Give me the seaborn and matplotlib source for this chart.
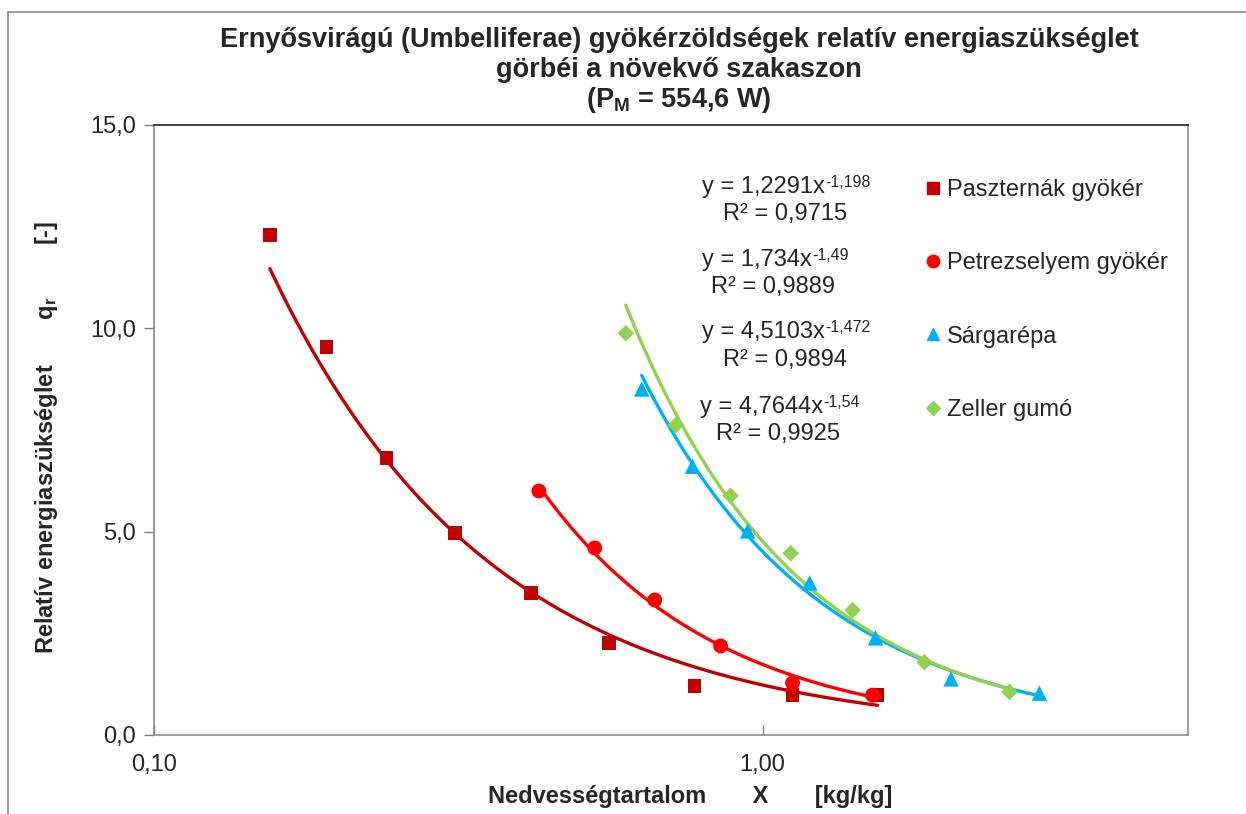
import numpy as np
import pandas as pd
import matplotlib
matplotlib.use("Agg")
import matplotlib.pyplot as plt
import seaborn as sns
from matplotlib.lines import Line2D
from matplotlib.ticker import FixedLocator, FixedFormatter, NullLocator

sns.set_theme(style="white")
plt.rcParams['font.family'] = ['Liberation Sans', 'DejaVu Sans']
plt.rcParams['mathtext.default'] = 'regular'

# ---- data ----
series_names = ["Paszternák gyökér", "Petrezselyem gyökér", "Sárgarépa", "Zeller gumó"]

x_paszternak = [0.155, 0.192, 0.241, 0.312, 0.416, 0.559, 0.773, 1.12, 1.545]
y_paszternak = [12.29, 9.54, 6.81, 4.97, 3.49, 2.26, 1.20, 0.98, 0.98]

x_petrezselyem = [0.429, 0.530, 0.665, 0.853, 1.12, 1.516]
y_petrezselyem = [6.00, 4.60, 3.32, 2.19, 1.28, 0.98]

x_sargarepa = [0.633, 0.767, 0.945, 1.195, 1.533, 2.04, 2.85]
y_sargarepa = [8.51, 6.61, 5.02, 3.74, 2.39, 1.38, 1.03]

x_zeller = [0.596, 0.720, 0.886, 1.112, 1.406, 1.845, 2.544]
y_zeller = [9.88, 7.62, 5.88, 4.47, 3.07, 1.79, 1.06]

# power-law trendline coefficients shown on the chart
coef_a = [1.2291, 1.734, 4.5103, 4.7644]
coef_b = [-1.198, -1.49, -1.472, -1.54]
eq_main = ["y = 1,2291x", "y = 1,734x", "y = 4,5103x", "y = 4,7644x"]
eq_sup = ["-1,198", "-1,49", "-1,472", "-1,54"]
r2_labels = ["R² = 0,9715", "R² = 0,9889", "R² = 0,9894", "R² = 0,9925"]

x_ticks = [0.1, 1.0]
x_ticklabels = ["0,10", "1,00"]
y_ticks = [0, 5, 10, 15]
y_ticklabels = ["0,0", "5,0", "10,0", "15,0"]

colors = {"Paszternák gyökér": "#C00000", "Petrezselyem gyökér": "#FF0000",
          "Sárgarépa": "#00B0F0", "Zeller gumó": "#92D050"}
markers = {"Paszternák gyökér": "s", "Petrezselyem gyökér": "o",
           "Sárgarépa": "^", "Zeller gumó": "D"}
msizes = {"Paszternák gyökér": 95, "Petrezselyem gyökér": 115,
          "Sárgarépa": 125, "Zeller gumó": 72}

xs = [x_paszternak, x_petrezselyem, x_sargarepa, x_zeller]
ys = [y_paszternak, y_petrezselyem, y_sargarepa, y_zeller]

pts = pd.concat([pd.DataFrame({"x": x, "y": y, "s": n}) for n, x, y in zip(series_names, xs, ys)],
                ignore_index=True)

trend_frames = []
for n, x, a, b in zip(series_names, xs, coef_a, coef_b):
    xx = np.geomspace(min(x), max(x), 200)
    trend_frames.append(pd.DataFrame({"x": xx, "y": a * xx ** b, "s": n}))
trend = pd.concat(trend_frames, ignore_index=True)

fig = plt.figure(figsize=(12.46, 8.14), dpi=100)
ax = fig.add_axes([154 / 1246, 1 - 735 / 814, (1188 - 154) / 1246, (735 - 125) / 814])

sns.lineplot(data=trend, x="x", y="y", hue="s", palette=colors, lw=2.4,
             legend=False, ax=ax, sort=False, estimator=None)
for n in series_names:
    d = pts[pts.s == n]
    sns.scatterplot(data=d, x="x", y="y", color=colors[n], marker=markers[n],
                    s=msizes[n], edgecolor="none", linewidth=0, ax=ax, legend=False, zorder=3)

ax.set_xscale("log")
ax.set_xlim(0.1, 5.0)
ax.set_ylim(0, 15)
ax.xaxis.set_major_locator(FixedLocator(x_ticks))
ax.xaxis.set_major_formatter(FixedFormatter(x_ticklabels))
ax.xaxis.set_minor_locator(NullLocator())
ax.set_yticks(y_ticks)
ax.set_yticklabels(y_ticklabels)
ax.tick_params(axis="y", direction="out", length=7, width=1, color="#808080",
               labelsize=17, pad=6, left=True)
ax.tick_params(axis="x", direction="in", length=7, width=1, color="#808080",
               labelsize=17, pad=14, bottom=True)
ax.set_xlabel("")
ax.set_ylabel("")
ax.grid(False)
for side in ["left", "bottom", "right"]:
    ax.spines[side].set_color("#8c8c8c")
    ax.spines[side].set_linewidth(1.2)
ax.spines["top"].set_color("#202020")
ax.spines["top"].set_linewidth(1.2)

# equations
eq_y = [187, 260, 332, 407]
r2_y = [214, 287, 360, 434]
eq_x = [702, 702, 702, 700]
r2_x = [785, 773, 785, 778]
for em, es, r, ey, ry, ex, rx in zip(eq_main, eq_sup, r2_labels, eq_y, r2_y, eq_x, r2_x):
    t = fig.text(ex / 1246, 1 - ey / 814, em, fontsize=17, ha="left", va="center")
    ax.annotate(es, xy=(1.0, 0.52), xycoords=t, fontsize=11.5, ha="left", va="baseline",
                annotation_clip=False)
    fig.text(rx / 1246, 1 - ry / 814, r, fontsize=17, ha="center", va="center")

# legend
handles = [Line2D([], [], color=colors[n], marker=markers[n], ls="none",
                  markersize=(9 if markers[n] != "D" else 7)) for n in series_names]
fig.legend(handles, series_names, loc="upper left", bbox_to_anchor=(914 / 1246, 1 - 167 / 814),
           frameon=False, fontsize=17, handlelength=0.6, handletextpad=0.3,
           labelspacing=2.18, borderpad=0)

# titles
tx = 679 / 1246
fig.text(tx, 1 - 40 / 814, "Ernyősvirágú (Umbelliferae) gyökérzöldségek relatív energiaszükséglet",
         fontsize=19.5, fontweight="bold", ha="center", va="center")
fig.text(tx, 1 - 70 / 814, "görbéi a növekvő szakaszon",
         fontsize=19.5, fontweight="bold", ha="center", va="center")
fig.text(tx, 1 - 100 / 814, r"(P$_{M}$ = 554,6 W)",
         fontsize=19.5, fontweight="bold", ha="center", va="center")

# axis labels
fig.text(690 / 1246, 1 - 797 / 814, "Nedvességtartalom       X       [kg/kg]",
         fontsize=17, fontweight="bold", ha="center", va="center")
fig.text(47 / 1246, 1 - 437 / 814, r"Relatív energiaszükséglet       q$_{r}$        [-]",
         fontsize=17, fontweight="bold", ha="center", va="center", rotation=90)

# outer frame lines (top and left)
fig.add_artist(Line2D([8 / 1246, 1], [1 - 12 / 814, 1 - 12 / 814], transform=fig.transFigure,
                      color="#8c8c8c", lw=1.2))
fig.add_artist(Line2D([8 / 1246, 8 / 1246], [0, 1 - 12 / 814], transform=fig.transFigure,
                      color="#8c8c8c", lw=1.2))

fig.savefig("out.png", dpi=100, facecolor="white")
